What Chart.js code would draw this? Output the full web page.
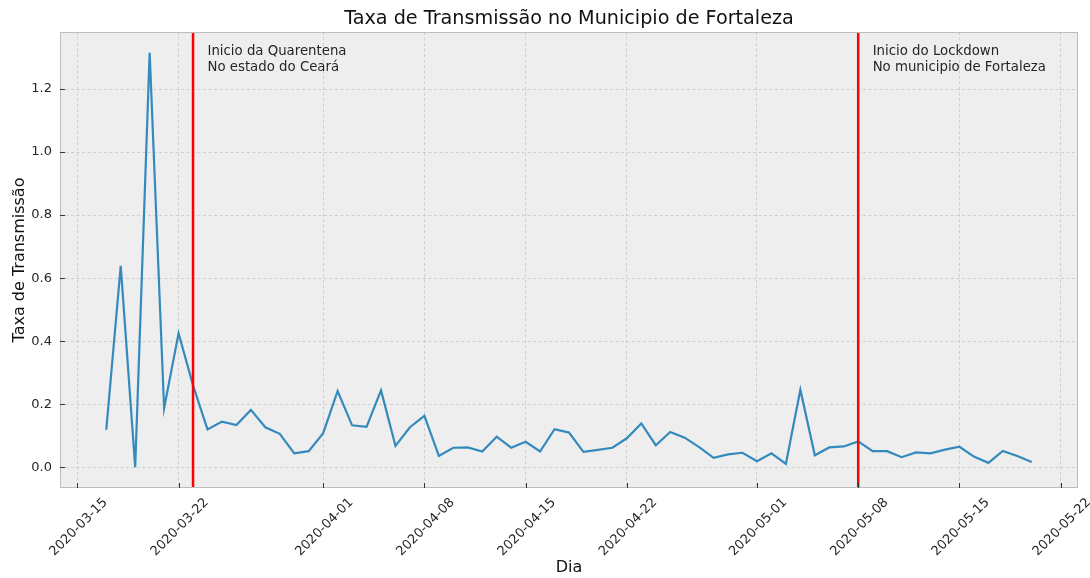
<!DOCTYPE html>
<html>
<head>
<meta charset="utf-8">
<script src="https://cdn.jsdelivr.net/npm/chart.js@4.4.0/dist/chart.umd.min.js"></script>
<style>
  html, body { margin: 0; padding: 0; background: #ffffff; }
  #wrap { width: 1090px; height: 578px; }
</style>
</head>
<body>
<div id="wrap"><canvas id="myChart"></canvas></div>
<script>
// Data
const dias = [
  '2020-03-17','2020-03-18','2020-03-19','2020-03-20','2020-03-21','2020-03-22','2020-03-23',
  '2020-03-24','2020-03-25','2020-03-26','2020-03-27','2020-03-28','2020-03-29','2020-03-30',
  '2020-03-31','2020-04-01','2020-04-02','2020-04-03','2020-04-04','2020-04-05','2020-04-06',
  '2020-04-07','2020-04-08','2020-04-09','2020-04-10','2020-04-11','2020-04-12','2020-04-13',
  '2020-04-14','2020-04-15','2020-04-16','2020-04-17','2020-04-18','2020-04-19','2020-04-20',
  '2020-04-21','2020-04-22','2020-04-23','2020-04-24','2020-04-25','2020-04-26','2020-04-27',
  '2020-04-28','2020-04-29','2020-04-30','2020-05-01','2020-05-02','2020-05-03','2020-05-04',
  '2020-05-05','2020-05-06','2020-05-07','2020-05-08','2020-05-09','2020-05-10','2020-05-11',
  '2020-05-12','2020-05-13','2020-05-14','2020-05-15','2020-05-16','2020-05-17','2020-05-18',
  '2020-05-19','2020-05-20'
];
const taxa = [
  0.119, 0.639, 0.000, 1.315, 0.187, 0.425, 0.260,
  0.120, 0.145, 0.134, 0.182, 0.127, 0.106, 0.044,
  0.051, 0.108, 0.242, 0.133, 0.128, 0.244, 0.068,
  0.127, 0.163, 0.036, 0.062, 0.063, 0.050, 0.097,
  0.062, 0.081, 0.050, 0.121, 0.110, 0.049, 0.055,
  0.062, 0.092, 0.139, 0.070, 0.112, 0.094, 0.064,
  0.030, 0.041, 0.046, 0.019, 0.044, 0.011, 0.246,
  0.038, 0.063, 0.066, 0.082, 0.051, 0.051, 0.032,
  0.047, 0.044, 0.056, 0.065, 0.034, 0.014, 0.052,
  0.036, 0.017
];
const xTicks = ['2020-03-15','2020-03-22','2020-04-01','2020-04-08','2020-04-15',
                '2020-04-22','2020-05-01','2020-05-08','2020-05-15','2020-05-22'];
const yTicks = [0.0, 0.2, 0.4, 0.6, 0.8, 1.0, 1.2];
const marcos = ['2020-03-23', '2020-05-08'];
const marcoTextoDia = ['2020-03-24', '2020-05-09'];
const marcoTextoY = 1.25;
const marcoTexto = [
  ['Inicio da Quarentena', 'No estado do Ceará'],
  ['Inicio do Lockdown', 'No municipio de Fortaleza']
];

// dates -> day numbers for the linear x scale
const toDay = s => Date.UTC(+s.slice(0, 4), +s.slice(5, 7) - 1, +s.slice(8, 10)) / 86400000;
const fromDay = d => new Date(d * 86400000).toISOString().slice(0, 10);

const points = dias.map((d, i) => ({ x: toDay(d), y: taxa[i] }));

// matplotlib-like 5% margins
const xFirst = toDay(dias[0]), xLast = toDay(dias[dias.length - 1]);
const xPad = (xLast - xFirst) * 0.05;
const yMaxV = Math.max(...taxa), yMinV = Math.min(...taxa);
const yPad = (yMaxV - yMinV) * 0.05;

// red vertical lines + annotations
const marcosPlugin = {
  id: 'marcos',
  afterDatasetsDraw(chart) {
    const { ctx, chartArea, scales } = chart;
    ctx.save();
    ctx.strokeStyle = '#ff0000';
    ctx.lineWidth = 2.5;
    marcos.forEach(d => {
      const x = scales.x.getPixelForValue(toDay(d));
      ctx.beginPath();
      ctx.moveTo(x, chartArea.top);
      ctx.lineTo(x, chartArea.bottom);
      ctx.stroke();
    });
    ctx.fillStyle = '#262626';
    ctx.font = '13.3px "DejaVu Sans"';
    ctx.textAlign = 'left';
    ctx.textBaseline = 'bottom';
    marcoTexto.forEach((lines, i) => {
      const x = scales.x.getPixelForValue(toDay(marcoTextoDia[i]));
      const yb = scales.y.getPixelForValue(marcoTextoY);
      const lh = 16;
      lines.forEach((t, j) => {
        ctx.fillText(t, x, yb + 1 - (lines.length - 1 - j) * lh);
      });
    });
    ctx.restore();
  }
};

// axes background, frame and small inward tick marks
const plotBg = {
  id: 'plotBg',
  beforeDraw(chart) {
    const { ctx, chartArea } = chart;
    ctx.save();
    ctx.fillStyle = '#eeeeee';
    ctx.fillRect(chartArea.left, chartArea.top, chartArea.right - chartArea.left, chartArea.bottom - chartArea.top);
    ctx.restore();
  },
  afterDraw(chart) {
    const { ctx, chartArea, scales } = chart;
    ctx.save();
    ctx.strokeStyle = '#bcbcbc';
    ctx.lineWidth = 1;
    ctx.strokeRect(chartArea.left + 0.5, chartArea.top + 0.5, chartArea.right - chartArea.left - 1, chartArea.bottom - chartArea.top - 1);
    ctx.strokeStyle = '#333333';
    ctx.beginPath();
    scales.x.ticks.forEach(t => {
      const x = Math.round(scales.x.getPixelForValue(t.value)) + 0.5;
      ctx.moveTo(x, chartArea.bottom);
      ctx.lineTo(x, chartArea.bottom - 5);
    });
    scales.y.ticks.forEach(t => {
      const y = Math.round(scales.y.getPixelForValue(t.value)) + 0.5;
      ctx.moveTo(chartArea.left, y);
      ctx.lineTo(chartArea.left + 5, y);
    });
    ctx.stroke();
    ctx.restore();
  }
};

const ctx = document.getElementById('myChart').getContext('2d');
const chart = new Chart(ctx, {
  type: 'line',
  data: {
    datasets: [{
      label: 'Taxa',
      data: points,
      borderColor: '#348abd',
      borderWidth: 2.2,
      pointRadius: 0,
      tension: 0,
      fill: false
    }]
  },
  options: {
    responsive: true,
    maintainAspectRatio: false,
    animation: false,
    layout: { padding: { left: 0, right: 12, top: 7, bottom: 0 } },
    plugins: {
      legend: { display: false },
      tooltip: { enabled: false },
      title: {
        display: true,
        fullSize: false,
        text: 'Taxa de Transmissão no Municipio de Fortaleza',
        color: '#111111',
        font: { family: 'DejaVu Sans', size: 19.2, weight: 'normal' },
        padding: { top: 0, bottom: 2 }
      }
    },
    scales: {
      x: {
        type: 'linear',
        min: xFirst - xPad,
        max: xLast + xPad,
        afterBuildTicks: s => { s.ticks = xTicks.map(d => ({ value: toDay(d) })); },
        afterFit: s => { s.height = 90; },
        grid: { color: '#c6c6c6', lineWidth: 0.8, drawTicks: false },
        border: { display: false, dash: [3, 2.5] },
        ticks: {
          color: '#262626',
          font: { family: 'DejaVu Sans', size: 13 },
          maxRotation: 45,
          minRotation: 45,
          autoSkip: false,
          labelOffset: 28,
          padding: 7,
          callback: v => fromDay(v)
        },
        title: {
          display: true,
          text: 'Dia',
          color: '#111111',
          font: { family: 'DejaVu Sans', size: 16 },
          padding: { top: 0, bottom: 1 }
        }
      },
      y: {
        min: yMinV - yPad,
        max: yMaxV + yPad,
        afterBuildTicks: s => { s.ticks = yTicks.map(v => ({ value: v })); },
        afterFit: s => { s.width = 60; },
        grid: { color: '#c6c6c6', lineWidth: 0.8, drawTicks: false },
        border: { display: false, dash: [3, 2.5] },
        ticks: {
          color: '#262626',
          font: { family: 'DejaVu Sans', size: 13 },
          padding: 8,
          callback: v => v.toFixed(1)
        },
        title: {
          display: true,
          text: 'Taxa de Transmissão',
          color: '#111111',
          font: { family: 'DejaVu Sans', size: 16 },
          padding: { top: 10, bottom: 0 }
        }
      }
    }
  },
  plugins: [plotBg, marcosPlugin]
});
</script>
</body>
</html>
